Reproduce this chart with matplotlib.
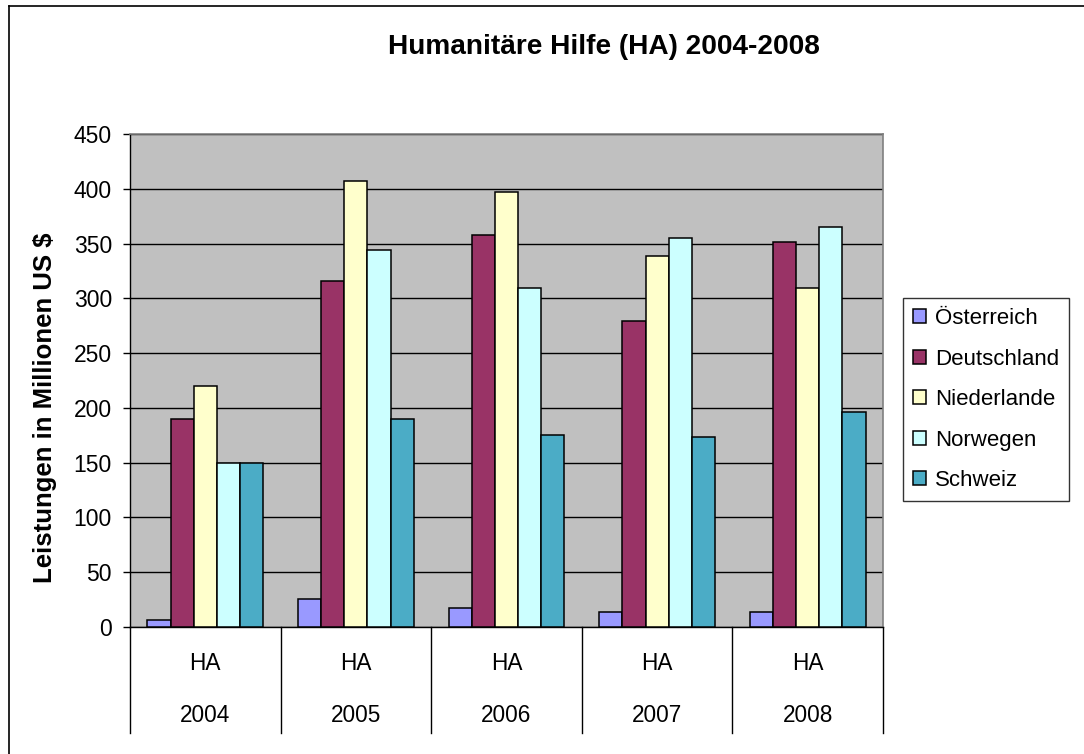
import matplotlib
matplotlib.use("Agg")
import matplotlib.pyplot as plt
import numpy as np
from matplotlib.lines import Line2D
from matplotlib.transforms import blended_transform_factory

plt.rcParams['font.family'] = ['Liberation Sans', 'DejaVu Sans']

years = ["2004", "2005", "2006", "2007", "2008"]
sub_labels = ["HA", "HA", "HA", "HA", "HA"]
countries = ["Österreich", "Deutschland", "Niederlande", "Norwegen", "Schweiz"]
oesterreich = [6, 26, 17, 14, 14]
deutschland = [190, 316, 358, 279, 351]
niederlande = [220, 407, 397, 339, 309]
norwegen = [150, 344, 309, 355, 365]
schweiz = [150, 190, 175, 173, 196]
series = [oesterreich, deutschland, niederlande, norwegen, schweiz]
colors = ["#9999FF", "#993366", "#FFFFCC", "#CCFFFF", "#4BACC6"]
yticks = [0, 50, 100, 150, 200, 250, 300, 350, 400, 450]

W, H = 1084, 754
fig = plt.figure(figsize=(W / 100, H / 100), dpi=100)
ax = fig.add_axes([130 / W, 1 - 627 / H, (883 - 130) / W, (627 - 134) / H])
ax.set_facecolor("#C0C0C0")

x = np.arange(len(years))
bw = 1 / 6.5
for k, (vals, col, name) in enumerate(zip(series, colors, countries)):
    ax.bar(x + (k - 2) * bw, vals, width=bw, color=col, edgecolor="black",
           linewidth=1.1, label=name, zorder=3)

ax.set_xlim(-0.5, len(years) - 0.5)
ax.set_ylim(0, 450)
ax.set_yticks(yticks)
ax.set_yticklabels([str(t) for t in yticks], fontsize=16.5)
ax.yaxis.grid(True, color="black", linewidth=1.0, zorder=1)
ax.set_axisbelow(True)
ax.tick_params(axis="y", direction="out", length=5, width=1, pad=8)
ax.set_xticks([])

for s in ["top", "right"]:
    ax.spines[s].set_color("#808080")
    ax.spines[s].set_linewidth(1.2)
ax.spines["left"].set_color("black")
ax.spines["bottom"].set_color("black")
ax.spines["left"].set_linewidth(1.0)
ax.spines["bottom"].set_linewidth(1.0)

tr = blended_transform_factory(ax.transData, ax.transAxes)
sep_bottom = (627 - 733) / 493
for b in np.arange(-0.5, len(years), 1.0):
    ax.add_line(Line2D([b, b], [0, sep_bottom], transform=tr, color="black",
                       linewidth=1.0, clip_on=False))
for i, (s, yr) in enumerate(zip(sub_labels, years)):
    ax.text(x[i], (627 - 663) / 493, s, transform=tr, ha="center", va="center", fontsize=16.3)
    ax.text(x[i], (627 - 715) / 493, yr, transform=tr, ha="center", va="center", fontsize=16.3)

fig.text(45 / W, 1 - 408 / H, "Leistungen in Millionen US $", rotation=90,
         ha="center", va="center", fontsize=18.5, fontweight="bold")

fig.text(604 / W, 1 - 47 / H, "Humanitäre Hilfe (HA) 2004-2008", ha="center", va="center",
         fontsize=20.2, fontweight="bold")

leg = ax.legend(loc="upper left", bbox_to_anchor=(903 / W, 1 - 298 / H),
                bbox_transform=fig.transFigure, fontsize=16, frameon=True,
                fancybox=False, edgecolor="black", handlelength=0.6, handleheight=0.6,
                handletextpad=0.4, labelspacing=0.88, borderpad=0.45, borderaxespad=0)
leg.get_frame().set_linewidth(1.0)

# outer chart border (left and top visible)
fig.add_artist(Line2D([9 / W, 9 / W], [-0.1, 1 - 6 / H], transform=fig.transFigure,
                      color="black", linewidth=1.2))
fig.add_artist(Line2D([9 / W, 1.1], [1 - 6 / H, 1 - 6 / H], transform=fig.transFigure,
                      color="black", linewidth=1.2))

fig.savefig("out.png", dpi=100)
